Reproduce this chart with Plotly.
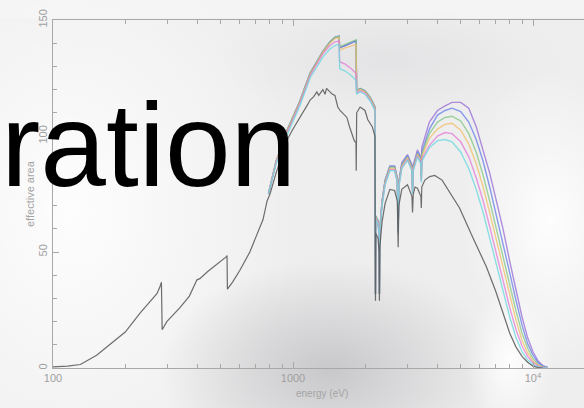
import base64
import plotly.graph_objects as go

# ---- effective area curves (energy in eV, area in cm^2) ----
gray_energy = [100, 115, 130, 152, 172, 200, 230, 254, 271, 279, 283, 285, 298, 338, 370,
               398, 409, 440, 480, 510, 528, 531, 533, 560, 600, 661, 700, 750, 780, 802,
               850, 941, 1000, 1068, 1120, 1150, 1178, 1220, 1257, 1280, 1300, 1332, 1360,
               1380, 1425, 1460, 1495, 1537, 1570, 1620, 1677, 1720, 1760, 1800, 1830, 1834,
               1842, 1904, 1995, 2050, 2140, 2195, 2206, 2212, 2260, 2285, 2291, 2300, 2350,
               2420, 2533, 2650, 2720, 2743, 2760, 2840, 3000, 3130, 3148, 3170, 3225, 3300,
               3410, 3425, 3440, 3543, 3712, 3894, 4180, 4422, 4943, 5600, 6400, 7000, 7500,
               8000, 8500, 9000, 9500, 10000, 10500, 11000]
gray_area = [0.5, 0.8, 1.5, 5.5, 10, 15.5, 23.5, 28.5, 32, 35, 37, 16.5, 20, 26, 31,
             38, 38.5, 41.5, 44.5, 46.5, 48, 48.5, 34, 37, 42, 50, 56, 64, 72, 75,
             84, 98, 103, 108, 111, 113.5, 115.5, 117, 119, 117.5, 118.5, 120, 118,
             120.5, 119, 118, 117.5, 112.5, 111, 109.5, 108, 104, 101, 98, 97, 85,
             110, 112.5, 111, 107, 104, 100, 29, 58, 56, 50, 29, 52, 63,
             71, 77, 76.5, 72, 52, 70, 77, 79, 74, 67, 75, 78, 77.5,
             74, 69, 78, 81, 82.5, 83, 81, 77, 69, 56.5, 43.5, 33, 24,
             15, 9, 5, 2.5, 0.8, 0.2, 0]

col_energy = [790, 850, 941, 1068, 1178, 1257, 1332, 1425, 1495, 1555, 1565, 1650, 1750,
              1830, 1842, 1904, 1995, 2100, 2195, 2206, 2212, 2260, 2285, 2291, 2300, 2350,
              2420, 2533, 2650, 2720, 2743, 2760, 2840, 3000, 3130, 3148, 3170, 3300, 3410,
              3425, 3440, 3700, 4000, 4300, 4600, 5000, 5400, 5800, 6200, 6600, 7000, 7500,
              8000, 8500, 9000, 9500, 10000, 10500, 11000, 11500]

cyan_area = [75, 88, 100, 113, 125, 130, 134, 137.5, 139, 139.5, 129, 128, 126,
             124, 118, 119, 118, 115, 111, 32, 64, 62, 57, 32, 58, 70,
             79, 85, 85, 80, 58, 78, 86, 89.5, 85, 75, 85, 91, 88,
             80, 89, 95, 98, 98.5, 97.5, 93, 86, 77, 67, 56, 45.5, 33,
             22, 13, 7, 3.5, 1.5, 0.5, 0, 0]
magenta_area = [75, 88.5, 101, 114, 126, 131, 135.5, 139, 140.5, 141, 132, 131, 129,
                127, 118.5, 119.5, 118.5, 115.5, 111.5, 32, 64.5, 62.5, 57.5, 32, 58.5, 70.5,
                79.5, 85.5, 85.5, 80.5, 58.5, 78.5, 86.5, 90, 85.5, 75.5, 85.5, 91.5, 89,
                80.5, 90, 96, 100, 101.5, 101, 97.5, 91, 82, 72, 61, 50, 38,
                26, 16.5, 9.5, 5, 2.3, 0.8, 0.2, 0]
orange_area = [75, 89, 101.5, 114.5, 126.5, 131.5, 136, 140, 142, 142.5, 137, 138, 139,
               139.5, 119, 120, 119, 116, 112, 32, 65, 63, 58, 32, 59, 71,
               80, 86, 86, 81, 59, 79, 87, 90.5, 86, 76, 86, 92, 89.5,
               81, 91, 99, 103, 105, 105.5, 102.5, 96.5, 88, 78, 67, 56, 43,
               31, 20.5, 12, 6.5, 3, 1.2, 0.4, 0]
green_area = [75, 89, 102, 115, 127, 132, 136.5, 140.5, 142.5, 143, 138.5, 139.5, 140.5,
              141.5, 119.5, 120.5, 119.5, 116.5, 112.5, 32, 65.5, 63.5, 58.5, 32, 59.5, 71.5,
              80.5, 86.5, 86.5, 81.5, 59.5, 79.5, 87.5, 91, 86.5, 76.5, 86.5, 92.5, 90,
              81.5, 92, 101, 106, 108, 108.5, 106.5, 101, 93, 83, 72, 61, 48,
              35.5, 24.5, 15, 8.5, 4, 1.6, 0.5, 0]
blue_area = [75, 89, 102, 115, 127, 132, 136.5, 140.5, 142.5, 143, 138, 139, 140,
             141, 119.5, 120.5, 119.5, 116.5, 112.5, 32, 65.5, 63.5, 58.5, 32, 59.5, 72,
             81, 87, 87, 82, 60, 80, 88, 91.5, 87, 77, 87, 93, 90.5,
             82, 93, 103, 109, 111, 112, 110.5, 106, 98.5, 89, 78, 67, 54,
             41, 29, 18.5, 10.5, 5.5, 2.3, 0.8, 0.2]
purple_area = [75, 89, 102, 115, 127, 132, 136.5, 140.5, 142.5, 143, 138, 139, 140,
               141, 119.5, 120.5, 119.5, 116.5, 112.5, 32, 65.5, 63.5, 58.5, 32, 59.5, 72,
               81, 87, 87, 82, 60, 80, 88.5, 92, 87.5, 77.5, 87.5, 94, 91,
               83, 95, 106, 111, 113, 114.5, 114.5, 112, 104, 94, 84, 73, 60,
               46, 33.5, 22, 13, 7, 3, 1, 0.3]

x_tick_vals = [100, 1000, 10000]
x_tick_text = ["100", "1000", "10<sup>4</sup>"]
x_minor_vals = [200, 300, 400, 500, 600, 700, 800, 900,
                2000, 3000, 4000, 5000, 6000, 7000, 8000, 9000]
y_tick_vals = [0, 50, 100, 150]

# drawn from the outermost curve inward so cyan ends up on top
colored = [
    ("purple", purple_area, "rgba(150,106,212,0.75)"),
    ("blue", blue_area, "rgba(100,126,228,0.75)"),
    ("green", green_area, "rgba(128,198,128,0.75)"),
    ("orange", orange_area, "rgba(240,190,100,0.75)"),
    ("magenta", magenta_area, "rgba(226,120,214,0.75)"),
    ("cyan", cyan_area, "rgba(110,216,224,0.8)"),
]

fig = go.Figure()
for name, area, color in colored:
    fig.add_trace(go.Scatter(x=col_energy, y=area, mode="lines", name=name,
                             line=dict(color=color, width=1.4)))
fig.add_trace(go.Scatter(x=gray_energy, y=gray_area, mode="lines", name="gray",
                         line=dict(color="rgba(85,85,85,0.85)", width=1.2)))

# soft slide-style backdrop built from fading gradient blobs
svg = """<svg xmlns="http://www.w3.org/2000/svg" width="584" height="408" viewBox="0 0 584 408" preserveAspectRatio="none">
<defs>
<radialGradient id="w"><stop offset="0" stop-color="#ffffff" stop-opacity="0.9"/><stop offset="1" stop-color="#ffffff" stop-opacity="0"/></radialGradient>
<radialGradient id="g"><stop offset="0" stop-color="#c6c6c8" stop-opacity="0.95"/><stop offset="1" stop-color="#c6c6c8" stop-opacity="0"/></radialGradient>
<radialGradient id="h"><stop offset="0" stop-color="#dcdcde" stop-opacity="0.6"/><stop offset="1" stop-color="#dcdcde" stop-opacity="0"/></radialGradient>
</defs>
<rect width="584" height="408" fill="#eeeeef"/>
<ellipse cx="70" cy="210" rx="230" ry="300" fill="url(#w)"/>
<ellipse cx="330" cy="370" rx="170" ry="110" fill="url(#g)"/>
<ellipse cx="390" cy="60" rx="170" ry="60" fill="url(#h)"/>
<ellipse cx="550" cy="220" rx="90" ry="150" fill="url(#w)"/>
<ellipse cx="510" cy="360" rx="45" ry="70" fill="url(#w)"/>
<rect width="584" height="18" fill="#f6f6f6" opacity="0.7"/>
</svg>"""
bg_uri = "data:image/svg+xml;base64," + base64.b64encode(svg.encode()).decode()

W, H = 584, 408
L, R, T, B = 53, 0, 20, 40
pw, ph = W - L - R, H - T - B


def px(x):
    return (x - L) / pw


def py(y):
    return (H - B - y) / ph


fig.add_layout_image(dict(source=bg_uri, xref="paper", yref="paper",
                          x=px(0), y=py(0), sizex=W / pw, sizey=H / ph,
                          xanchor="left", yanchor="top", sizing="stretch",
                          layer="below", opacity=1))

axis_color = "#a8a8a8"
label_font = dict(family="Liberation Sans, Arial, sans-serif", size=11, color="#a0a0a0")

fig.update_xaxes(type="log", range=[2, 2 + pw / 240], showgrid=False, zeroline=False,
                 showline=True, linecolor=axis_color, linewidth=1.4, mirror="ticks",
                 ticks="inside", ticklen=6, tickcolor=axis_color, tickwidth=1,
                 tickvals=x_tick_vals, ticktext=x_tick_text, tickfont=label_font,
                 minor=dict(ticks="inside", ticklen=4, tickcolor=axis_color,
                            tickvals=x_minor_vals, showgrid=False))
fig.update_yaxes(range=[0, 150], showgrid=False, zeroline=False,
                 showline=True, linecolor=axis_color, linewidth=1.4, mirror=False,
                 ticks="inside", ticklen=6, tickcolor=axis_color, tickwidth=1,
                 tickvals=y_tick_vals, tickangle=-90, tickfont=label_font,
                 minor=dict(ticks="inside", ticklen=4, tickcolor=axis_color, dtick=10,
                            showgrid=False))

fig.add_annotation(text="effective area", xref="paper", yref="paper",
                   x=px(22), y=py(194), showarrow=False, textangle=-90,
                   font=dict(family="Liberation Sans, Arial, sans-serif", size=11,
                             color="#a4a4a4"))
fig.add_annotation(text="energy (eV)", xref="paper", yref="paper",
                   x=px(322), y=py(401), showarrow=False,
                   font=dict(family="Liberation Sans, Arial, sans-serif", size=10,
                             color="#a4a4a4"))
fig.add_annotation(text="ration", xref="paper", yref="paper",
                   x=px(-1), y=py(213), xanchor="left", yanchor="bottom",
                   showarrow=False,
                   font=dict(family="Arial, Liberation Sans, sans-serif", size=118,
                             color="#000000"))

fig.update_layout(width=W, height=H, autosize=False,
                  margin=dict(l=L, r=R, t=T, b=B, pad=0),
                  paper_bgcolor="#ececec", plot_bgcolor="rgba(0,0,0,0)",
                  showlegend=False)

fig.write_html("out.html")
